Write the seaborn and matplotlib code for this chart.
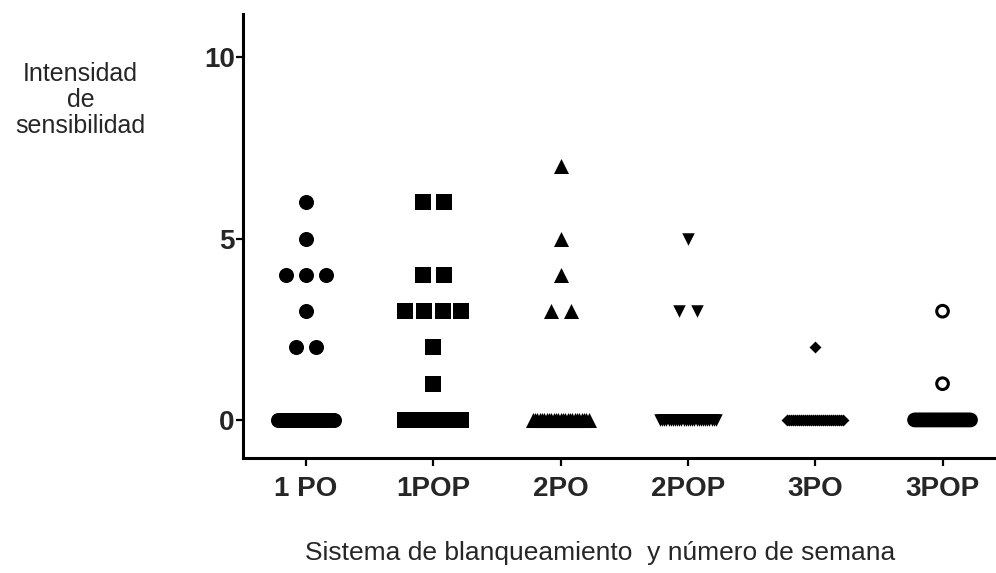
import numpy as np
import pandas as pd
import matplotlib
matplotlib.use("Agg")
import matplotlib.pyplot as plt
import seaborn as sns

# data
groups = ["1 PO", "1POP", "2PO", "2POP", "3PO", "3POP"]
vals_1po = [6, 5, 4, 4, 4, 3, 2, 2] + [0] * 22
vals_1pop = [6, 6, 4, 4, 3, 3, 3, 3, 2, 1] + [0] * 20
vals_2po = [7, 5, 4, 3, 3] + [0] * 25
vals_2pop = [5, 3, 3] + [0] * 27
vals_3po = [2] + [0] * 29
vals_3pop = [3, 1] + [0] * 28
all_vals = [vals_1po, vals_1pop, vals_2po, vals_2pop, vals_3po, vals_3pop]

# marker style per group: (marker, size in pt^2, filled)
styles = [("o", 117, True), ("s", 132, True), ("^", 117, True),
          ("v", 81, True), ("D", 37, True), ("o", 70, False)]

sns.set_style("white")
plt.rcParams["font.family"] = ["Liberation Sans", "DejaVu Sans"]

fig = plt.figure(figsize=(9.96, 5.73), dpi=100)
ax = fig.add_axes([0.244, 0.2007, 0.756, 0.7749])

px_per_unit = 127.3
max_span = 0.44

for i, (g, vals, (mk, s, filled)) in enumerate(zip(groups, all_vals, styles)):
    # centred dot-plot offsets, squeezed when a row gets too wide
    width_px = np.sqrt(s) * 100 / 72
    step = (width_px + 5) / px_per_unit
    xs, ys = [], []
    for v in sorted(set(vals), reverse=True):
        n = vals.count(v)
        st = step if n < 2 else min(step, max_span / (n - 1))
        xs += list(i + (np.arange(n) - (n - 1) / 2) * st)
        ys += [v] * n
    df = pd.DataFrame({"x": xs, "y": ys})
    if filled:
        sns.scatterplot(data=df, x="x", y="y", marker=mk, s=s, color="black",
                        linewidth=0, ax=ax)
    else:
        sns.scatterplot(data=df, x="x", y="y", marker=mk, s=s, facecolor="none",
                        edgecolor="black", linewidth=2.2, ax=ax)

ax.set_xlim(-0.495, 5.42)
ax.set_ylim(-1.05, 11.2)
ax.set_xticks(range(len(groups)))
ax.set_xticklabels(groups, fontsize=20, fontweight="bold")
ax.set_yticks([0, 5, 10])
ax.set_yticklabels(["0", "5", "10"], fontsize=20, fontweight="bold")
for sp in ["top", "right"]:
    ax.spines[sp].set_visible(False)
for sp in ["left", "bottom"]:
    ax.spines[sp].set_linewidth(2.2)
    ax.spines[sp].set_color("black")
ax.tick_params(axis="y", length=5, width=1.6, pad=1, color="black", left=True)
ax.tick_params(axis="x", length=6, width=1.6, pad=7, color="black", bottom=True)
ax.set_xlabel("")
ax.set_ylabel("Intensidad\nde\nsensibilidad", rotation=0, fontsize=18,
              ha="center", va="center", linespacing=1.12)
ax.yaxis.set_label_coords(-0.216, 0.806)

fig.text(600 / 996, 1 - 553 / 573, "Sistema de blanqueamiento  y número de semana",
         fontsize=19, ha="center", va="center")

fig.savefig("out.png", dpi=100)
